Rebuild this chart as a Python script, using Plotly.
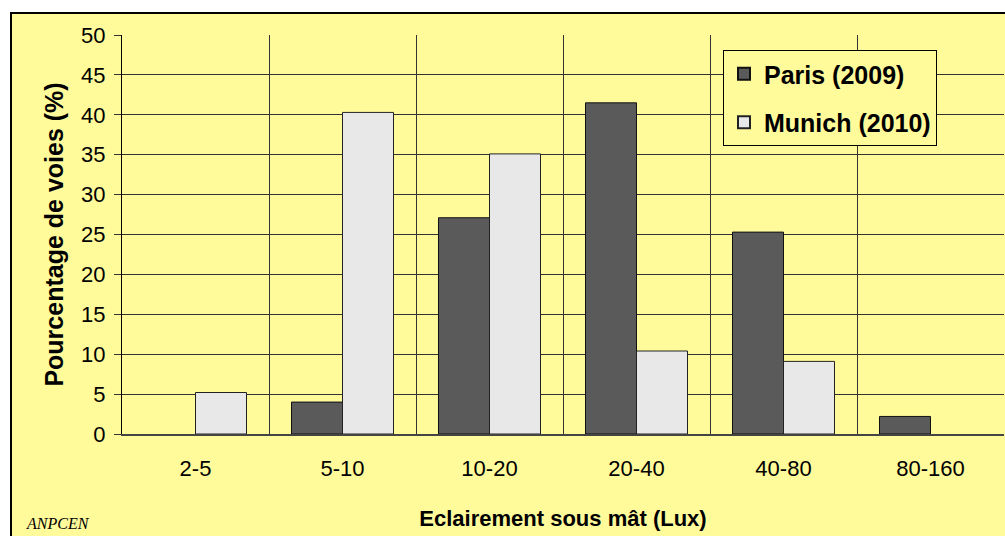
import plotly.graph_objects as go

categories = ["2-5", "5-10", "10-20", "20-40", "40-80", "80-160"]
paris_2009 = [0, 4.0, 27.1, 41.5, 25.3, 2.2]
munich_2010 = [5.2, 40.3, 35.1, 10.4, 9.1, 0]

YELLOW = "#FFFB9B"
FONT = "Liberation Sans, Arial, sans-serif"

fig = go.Figure()
# empty classes are simply not drawn (no flat outline on the axis)
fig.add_trace(go.Bar(
    x=categories, y=[v or None for v in paris_2009], name="Paris (2009)", legendgroup="paris",
    marker=dict(color="#5A5A5A", line=dict(color="#111111", width=1)),
))
fig.add_trace(go.Bar(
    x=categories, y=[v or None for v in munich_2010], name="Munich (2010)", legendgroup="munich",
    marker=dict(color="#E8E8E8", line=dict(color="#222222", width=1)),
))

# yellow chart frame behind the plot
fig.add_shape(type="rect", xref="paper", yref="paper",
              x0=(11 - 122) / 882, x1=1.05, y0=-0.5, y1=1 + 22 / 399,
              fillcolor=YELLOW, line=dict(color="black", width=2), layer="below")

fig.add_annotation(text="<i>ANPCEN</i>", xref="paper", yref="paper",
                   x=(24 - 122) / 882, y=-(523 - 434) / 399, xanchor="left", yanchor="middle",
                   showarrow=False, font=dict(family="Liberation Serif, Times New Roman, serif",
                                              size=16, color="black"))

fig.update_layout(
    width=1005, height=536,
    margin=dict(l=122, r=1, t=35, b=102),
    paper_bgcolor="white", plot_bgcolor=YELLOW,
    barmode="group", bargap=0.306, bargroupgap=0,
    font=dict(family=FONT, color="black"),
    showlegend=True,
    legend=dict(
        x=(723 - 122) / 882, y=1 - (50 - 35) / 399, xanchor="left", yanchor="top",
        bgcolor=YELLOW, bordercolor="black", borderwidth=1,
        font=dict(size=25, family=FONT, weight="bold"),
        traceorder="grouped", itemsizing="constant", tracegroupgap=13, itemwidth=30,
    ),
    xaxis=dict(
        tickson="boundaries", showgrid=True, gridcolor="#333333", gridwidth=1,
        ticks="", tickfont=dict(size=22), ticklabelstandoff=14,
        showline=True, linecolor="#444444", linewidth=2,
        title=dict(text="<b>Eclairement sous mât (Lux)</b>", font=dict(size=22), standoff=30),
    ),
    yaxis=dict(
        range=[0, 50], dtick=5, showgrid=True, gridcolor="#333333", gridwidth=1,
        ticks="outside", ticklen=7, tickcolor="#333333", tickfont=dict(size=22),
        ticklabelstandoff=4,
        showline=True, linecolor="black", linewidth=1, zeroline=False,
        title=dict(text="<b>Pourcentage de voies (%)</b>", font=dict(size=25), standoff=10),
    ),
)

fig.write_html("out.html", config={"displayModeBar": False},
               post_script="document.body.style.margin='0';")
